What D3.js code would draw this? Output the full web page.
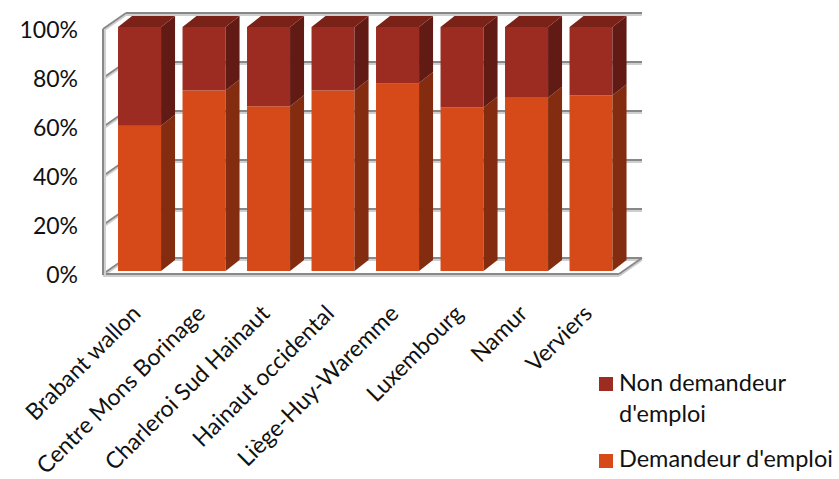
<!DOCTYPE html>
<html>
<head>
<meta charset="utf-8">
<script src="https://cdn.jsdelivr.net/npm/d3@7"></script>
<style>
  html, body { margin: 0; padding: 0; background: #fff; }
  svg { display: block; }
  text { font-family: Lato, "Open Sans", sans-serif; fill: #111; }
</style>
</head>
<body>
<svg id="chart" width="839" height="479"></svg>
<script>
// ---- data ----
const categories = ["Brabant wallon", "Centre Mons Borinage", "Charleroi Sud Hainaut",
  "Hainaut occidental", "Liège-Huy-Waremme", "Luxembourg", "Namur", "Verviers"];
const demandeur = [59.5, 74, 67.5, 74, 77, 67, 71, 72];
const nonDemandeur = [40.5, 26, 32.5, 26, 23, 33, 29, 28];
const yTicks = [0, 20, 40, 60, 80, 100];
const seriesNames = ["Non demandeur d'emploi", "Demandeur d'emploi"];

// ---- layout ----
const svg = d3.select("#chart");
const wallDX = 23, wallDY = -16;      // depth of walls
const barDX = 14, barDY = -11;        // depth of bars
const yFront = d3.scaleLinear().domain([0, 100]).range([274, 29]);
const yBar = d3.scaleLinear().domain([0, 100]).range([271, 27]);
const x = d3.scaleBand().domain(categories).range([103, 619]);
const barOff = x.bandwidth() * 0.233, barW = x.bandwidth() * 0.667;

const colors = {
  dem: { front: "#D54A18", side: "#842C0F", top: "#9A3312" },
  non: { front: "#9C2B21", side: "#621A14", top: "#7A2118" },
  gridDark: "#888888", gridLight: "#CFCFCF"
};

function dline(g, x1, y1, x2, y2) {
  g.append("line").attr("x1", x1).attr("y1", y1 + 2).attr("x2", x2).attr("y2", y2 + 2)
    .attr("stroke", colors.gridLight).attr("stroke-width", 2);
  g.append("line").attr("x1", x1).attr("y1", y1).attr("x2", x2).attr("y2", y2)
    .attr("stroke", colors.gridDark).attr("stroke-width", 2);
}

const walls = svg.append("g");
const x0 = x.range()[0], x1 = x.range()[1];
// gridlines on back wall and left wall
yTicks.forEach(t => {
  const yf = yFront(t), yb = yf + wallDY;
  if (t > 0) dline(walls, x0 + wallDX, yb, x1 + wallDX, yb);
  if (t > 0) dline(walls, x0, yf, x0 + wallDX, yb);
});
// floor
const yf0 = yFront(0);
dline(walls, x0 + wallDX, yf0 + wallDY, x1 + wallDX, yf0 + wallDY);
dline(walls, x0, yf0, x0 + wallDX, yf0 + wallDY);
dline(walls, x1, yf0, x1 + wallDX, yf0 + wallDY);
dline(walls, x0, yf0, x1, yf0);
// left wall front vertical
walls.append("line").attr("x1", x0 + 2).attr("x2", x0 + 2).attr("y1", yFront(100)).attr("y2", yf0 + 1)
  .attr("stroke", colors.gridLight).attr("stroke-width", 2);
walls.append("line").attr("x1", x0).attr("x2", x0).attr("y1", yFront(100)).attr("y2", yf0 + 1)
  .attr("stroke", colors.gridDark).attr("stroke-width", 2);

// ---- bars ----
const bars = svg.append("g");
categories.forEach((c, i) => {
  const bx = x(c) + barOff;
  const segs = [
    { v0: 0, v1: demandeur[i], col: colors.dem },
    { v0: demandeur[i], v1: demandeur[i] + nonDemandeur[i], col: colors.non }
  ];
  segs.forEach((s, k) => {
    const ya = yBar(s.v0), yb = yBar(s.v1);
    bars.append("rect").attr("x", bx).attr("y", yb).attr("width", barW).attr("height", ya - yb)
      .attr("fill", s.col.front);
    bars.append("polygon")
      .attr("points", [[bx + barW, ya], [bx + barW + barDX, ya + barDY], [bx + barW + barDX, yb + barDY], [bx + barW, yb]].join(" "))
      .attr("fill", s.col.side);
    if (k === segs.length - 1) {
      bars.append("polygon")
        .attr("points", [[bx, yb], [bx + barW, yb], [bx + barW + barDX, yb + barDY], [bx + barDX, yb + barDY]].join(" "))
        .attr("fill", s.col.top);
    }
  });
});

// ---- y axis ----
const yAxis = d3.axisLeft(yFront).tickValues(yTicks).tickFormat(d => d + "%").tickSize(0).tickPadding(0);
const ya = svg.append("g").attr("transform", "translate(78,1.5)").call(yAxis);
ya.select(".domain").remove();
ya.selectAll("text").attr("font-family", "Lato, 'Open Sans', sans-serif").attr("font-size", 23).attr("fill", "#111");

// ---- x labels ----
svg.append("g").selectAll("text").data(categories).join("text")
  .attr("transform", d => `translate(${x(d) + barOff + 24},315) rotate(-45)`)
  .attr("text-anchor", "end")
  .attr("font-size", 23)
  .text(d => d);

// ---- legend ----
const lg = svg.append("g");
lg.append("rect").attr("x", 599).attr("y", 377).attr("width", 14).attr("height", 14).attr("fill", colors.non.front);
lg.append("text").attr("x", 619).attr("y", 391).attr("font-size", 23.5).text("Non demandeur");
lg.append("text").attr("x", 619).attr("y", 422).attr("font-size", 23.5).text("d'emploi");
lg.append("rect").attr("x", 599).attr("y", 454).attr("width", 14).attr("height", 14).attr("fill", colors.dem.front);
lg.append("text").attr("x", 619).attr("y", 467).attr("font-size", 23.5).text(seriesNames[1]);
</script>
</body>
</html>
